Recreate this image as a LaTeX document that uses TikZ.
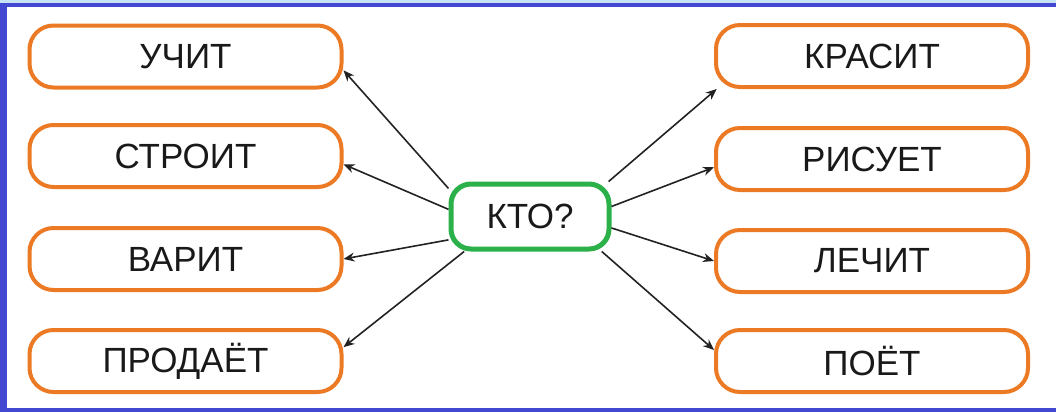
\documentclass[tikz,border=0pt]{standalone}
\usepackage{fontspec}
\setmainfont{Liberation Sans}
\usetikzlibrary{arrows.meta}
\definecolor{boxorange}{HTML}{EC7A24}
\definecolor{kgreen}{HTML}{2BB04A}
\definecolor{frameblue}{HTML}{4348D2}
\definecolor{framelight}{HTML}{C6E4F4}
\definecolor{arrowgray}{HTML}{222222}

\begin{document}
\begin{tikzpicture}[x=0.5pt,y=-0.5pt,
  verb/.style={draw=boxorange, line width=2pt, rounded corners=12pt,
    minimum width=156pt, minimum height=31pt, inner sep=0pt,
    font=\fontsize{17.5}{20}\selectfont, text=black!90},
  ask/.style={draw=kgreen, line width=2.5pt, rounded corners=10pt,
    minimum width=79pt, minimum height=32.5pt, inner sep=0pt,
    font=\fontsize{17.5}{20}\selectfont, text=black!90},
  link/.style={draw=arrowgray, line width=0.8pt, -{Stealth[length=5.5pt,width=4.5pt]}}]
\useasboundingbox (0,0) rectangle (1056,412);
% frame
\fill[framelight] (0,0) rectangle (1056,3);
\fill[frameblue] (0,3) rectangle (1056,7);
\fill[frameblue] (0,3) rectangle (7,412);
\fill[frameblue] (0,408) rectangle (1056,412);

\coordinate (L1) at (185.5,56.5);
\coordinate (L2) at (185.5,156);
\coordinate (L3) at (185.5,259);
\coordinate (L4) at (185.5,361);
\coordinate (R1) at (872,56);
\coordinate (R2) at (872,159);
\coordinate (R3) at (872,261);
\coordinate (R4) at (872,361);
\coordinate (C) at (530,216.5);

\node[ask] (kto) at (C) {КТО?};
\node[verb] (uchit) at (L1) {УЧИТ};
\node[verb] (stroit) at (L2) {СТРОИТ};
\node[verb] (varit) at (L3) {ВАРИТ};
\node[verb] (prodaet) at (L4) {ПРОДАЁТ};
\node[verb] (krasit) at (R1) {КРАСИТ};
\node[verb] (risuet) at (R2) {РИСУЕТ};
\node[verb] (lechit) at (R3) {ЛЕЧИТ};
\node[verb] (poet) at (R4) {ПОЁТ};

% left arrows
\draw[link] (kto.161) -- (uchit.-5);
\draw[link] (kto.175) -- (stroit.-3);
\draw[link] (kto.196) -- (varit.0);
\draw[link] (kto.208) -- (prodaet.5);
% right arrows
\draw[link] (kto.24) -- (krasit.192);
\draw[link] (kto.7) -- (risuet.183);
\draw[link] (kto.-8) -- (lechit.180);
\draw[link] (kto.-26) -- (poet.176);
\end{tikzpicture}
\end{document}
